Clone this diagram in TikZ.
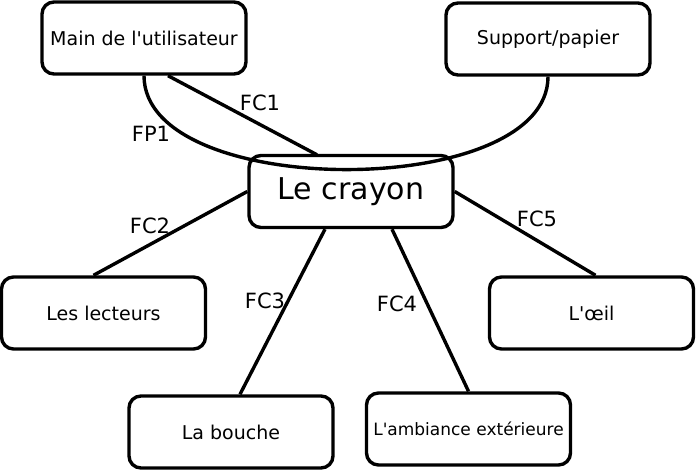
\documentclass[tikz,border=0pt]{standalone}
\usepackage{fontspec}
\setmainfont{DejaVu Sans}[Ligatures=TeXOff]
\usetikzlibrary{calc}

\begin{document}
\begin{tikzpicture}[x=1pt, y=-1pt, line width=3.4pt,
    every node/.style={font=\fontsize{19}{23}\selectfont},
    boite/.style={draw, rounded corners=12pt, minimum width=204pt, minimum height=72pt, inner sep=0pt},
    fonction/.style={font=\fontsize{21}{25}\selectfont, inner sep=0pt}]
    \useasboundingbox (0,0) rectangle (696,470);

    % les elements du milieu exterieur
    \foreach \n/\x/\y/\t in {main/144/38/Main de l'utilisateur, support/548/39/{Support/papier},
        lecteurs/103.5/313/Les lecteurs, bouche/231/432/La bouche, oeil/591.5/313/L'œil} {
        \node[boite] (\n) at (\x,\y) {\t};
    }
    \node[boite, font=\fontsize{17}{21}\selectfont] (ambiance) at (468.5,429) {L'ambiance extérieure};
    \node[boite, font=\fontsize{30}{34}\selectfont] (crayon) at (351,191.5) {Le crayon};

    % fonctions
    \draw (main.south) .. controls ($(main.south)+(0,125)$) and ($(support.south)+(0,124)$) .. (support.south);
    \draw ([xshift=24pt]main.south) -- ([xshift=-34pt, yshift=-1pt]crayon.north);
    \draw (crayon.west) -- ([xshift=-10pt]lecteurs.north);
    \draw ([xshift=-26pt]crayon.south) -- ([xshift=9pt]bouche.north);
    \draw ([xshift=41pt]crayon.south) -- (ambiance.north);
    \draw (crayon.east) -- ([xshift=4pt]oeil.north);

    \foreach \n/\x/\y/\t in {fp1/151/134/FP1, fc1/260/103/FC1, fc2/150/226/FC2,
        fc3/265/301/FC3, fc4/397/304/FC4, fc5/537/219/FC5} {
        \node[fonction] (\n) at (\x,\y) {\t};
    }
\end{tikzpicture}
\end{document}
